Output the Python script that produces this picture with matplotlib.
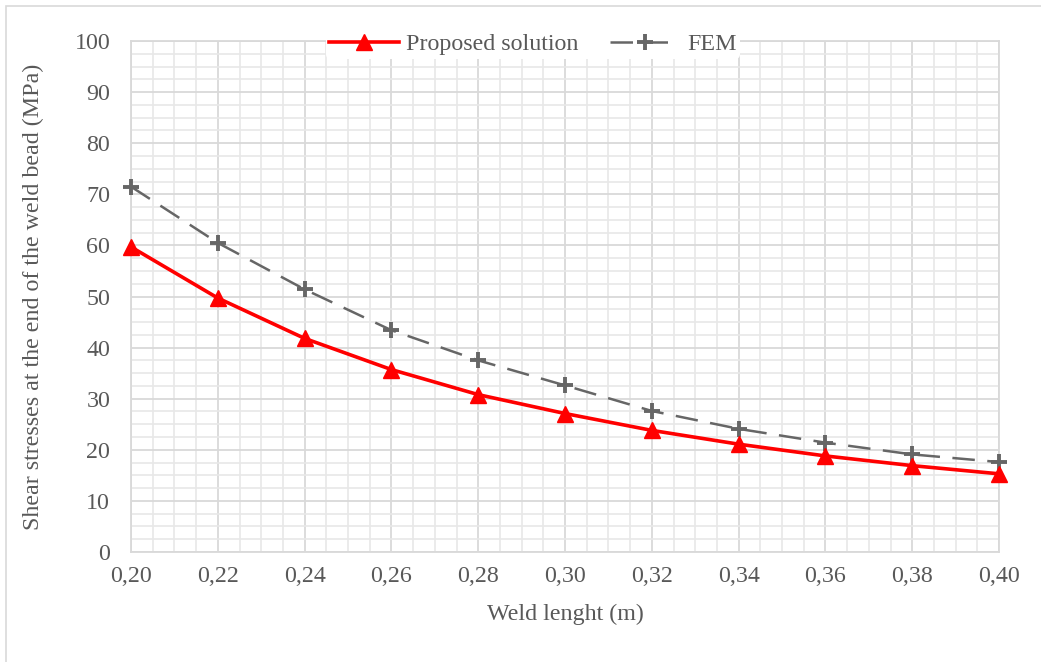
import matplotlib
matplotlib.use("Agg")
import matplotlib.pyplot as plt
from matplotlib.ticker import MultipleLocator, FuncFormatter
from matplotlib.patches import Rectangle

weld_length = [0.20, 0.22, 0.24, 0.26, 0.28, 0.30, 0.32, 0.34, 0.36, 0.38, 0.40]
proposed = [59.7, 49.7, 41.8, 35.7, 30.8, 27.1, 23.8, 21.1, 18.8, 16.9, 15.3]
fem = [71.5, 60.5, 51.4, 43.4, 37.5, 32.6, 27.6, 24.1, 21.4, 19.1, 17.6]

series_labels = ["Proposed solution", "FEM"]
x_label = "Weld lenght (m)"
y_label = "Shear stresses at the end of the weld bead (MPa)"

plt.rcParams['font.family'] = ['Liberation Serif', 'DejaVu Serif']
txt = '#595959'
fs = 17.3

fig = plt.figure(figsize=(10.41, 6.62), dpi=100)
W, H = 1041, 662
ax = fig.add_axes([131 / W, 1 - 552 / H, (999 - 131) / W, (552 - 41) / H])

# chart border
fig.patches.append(Rectangle((6 / W, -0.1), 1.2, (1 - 6 / H) + 0.1, transform=fig.transFigure,
                             fill=False, edgecolor='#D9D9D9', linewidth=1.2))

ax.plot(weld_length, proposed, color='#FF0000', linewidth=2.6, marker='^', markersize=11,
        label=series_labels[0], zorder=4, clip_on=False)
ax.plot(weld_length, fem, color='#666666', linewidth=1.8, linestyle=(0, (9, 5)), marker='+',
        markersize=11, markeredgewidth=2.8, label=series_labels[1], zorder=3, clip_on=False)

ax.set_xlim(0.20, 0.40)
ax.set_ylim(0, 100)
ax.xaxis.set_major_locator(MultipleLocator(0.02))
ax.xaxis.set_minor_locator(MultipleLocator(0.005))
ax.yaxis.set_major_locator(MultipleLocator(10))
ax.yaxis.set_minor_locator(MultipleLocator(2.5))
ax.xaxis.set_major_formatter(FuncFormatter(lambda v, p: f"{v:.2f}".replace('.', ',')))

ax.grid(which='major', color='#D9D9D9', linewidth=1.3)
ax.grid(which='minor', color='#E8E8E8', linewidth=1.2)
ax.set_axisbelow(True)
for s in ax.spines.values():
    s.set_color('#D9D9D9')
    s.set_linewidth(1.3)

ax.tick_params(which='both', length=0, colors=txt, labelsize=fs)
ax.tick_params(axis='x', pad=10)
ax.tick_params(axis='y', pad=15)

ax.set_xlabel(x_label, fontsize=fs, color=txt, labelpad=12)
ax.set_ylabel(y_label, fontsize=fs, color=txt, labelpad=22)

leg = fig.legend(loc='center', bbox_to_anchor=(533 / W, 1 - 44 / H), ncol=2, frameon=True,
                 fontsize=fs, handlelength=2.9, columnspacing=1.3, handletextpad=0.3,
                 borderpad=0.15, labelcolor=txt)
leg.get_frame().set_facecolor('white')
leg.get_frame().set_edgecolor('none')
leg.get_frame().set_alpha(1)

fig.savefig('out.png', dpi=100)
